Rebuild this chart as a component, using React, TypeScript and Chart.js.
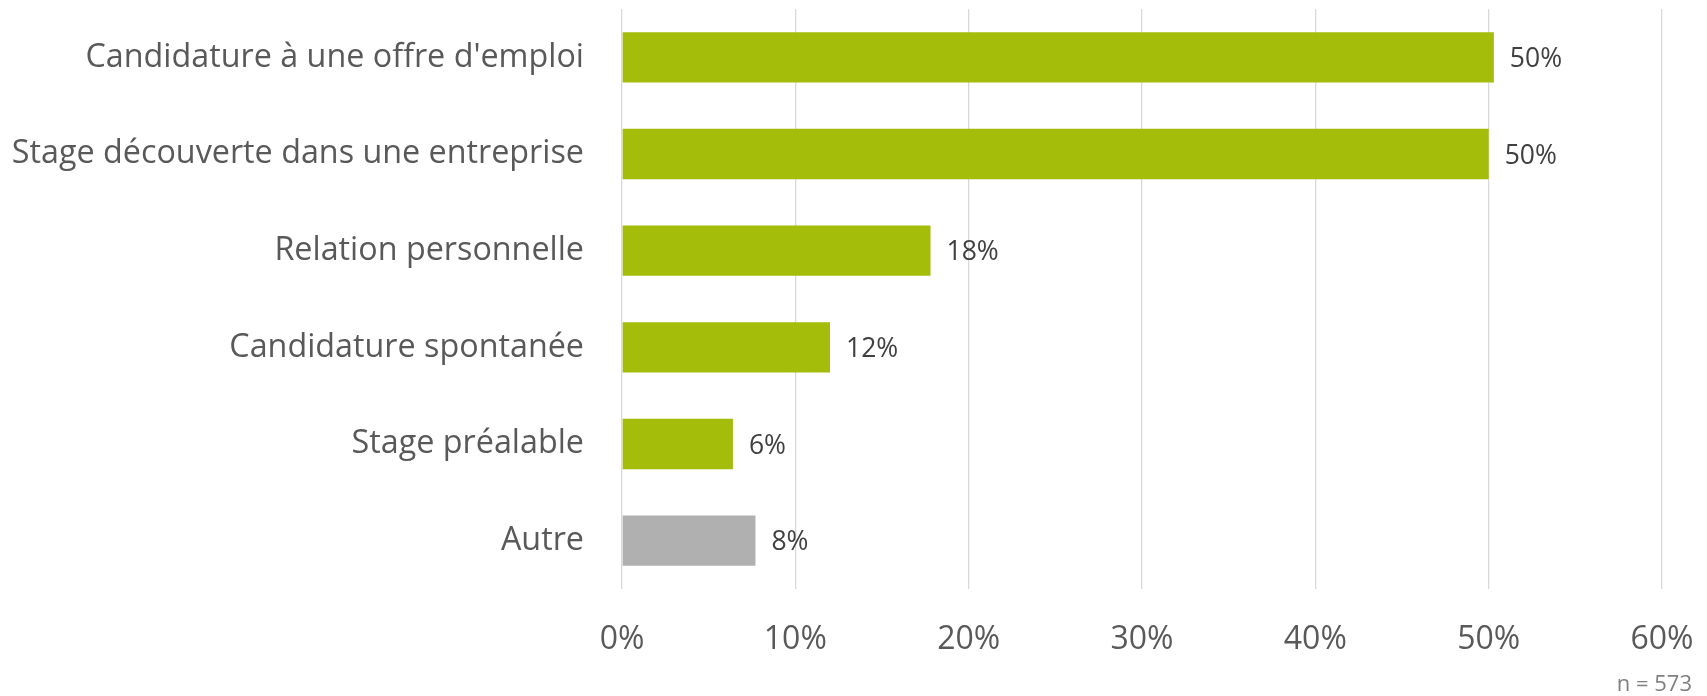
import React, { useEffect, useRef } from "react";
import { Chart, registerables } from "chart.js";

Chart.register(...registerables);

const categories = [
  "Candidature à une offre d'emploi",
  "Stage découverte dans une entreprise",
  "Relation personnelle",
  "Candidature spontanée",
  "Stage préalable",
  "Autre",
];
const values = [50.3, 50.0, 17.8, 12.0, 6.4, 7.7];
const valueLabels = ["50%", "50%", "18%", "12%", "6%", "8%"];
const barColors = ["#A4BC0A", "#A4BC0A", "#A4BC0A", "#A4BC0A", "#A4BC0A", "#B0B0B0"];
const xTicks = [0, 10, 20, 30, 40, 50, 60];
const footnote = "n = 573";

const FONT = "'Open Sans', 'Noto Sans', sans-serif";

export default function App() {
  const ref = useRef<HTMLCanvasElement | null>(null);
  useEffect(() => {
    if (!ref.current) return;
    const labelPlugin = {
      id: "valueLabels",
      afterDatasetsDraw(chart: any) {
        const ctx = chart.ctx;
        const meta = chart.getDatasetMeta(0);
        ctx.save();
        ctx.font = `26.5px ${FONT}`;
        ctx.fillStyle = "#404040";
        ctx.textAlign = "left";
        ctx.textBaseline = "middle";
        meta.data.forEach((el: any, i: number) => {
          ctx.fillText(valueLabels[i], el.x + 16, el.y + 2);
        });
        ctx.font = `22px ${FONT}`;
        ctx.fillStyle = "#7f7f7f";
        ctx.textAlign = "right";
        ctx.fillText(footnote, 1692, 685);
        ctx.restore();
      },
    };
    const chart = new Chart(ref.current, {
      type: "bar",
      data: {
        labels: categories,
        datasets: [
          {
            data: values,
            backgroundColor: barColors,
            borderWidth: 0,
            barPercentage: 0.52,
            categoryPercentage: 1,
          },
        ],
      },
      options: {
        indexAxis: "y",
        responsive: false,
        animation: false,
        layout: { padding: { top: 9, right: 45, bottom: 0, left: 0 } },
        plugins: { legend: { display: false }, tooltip: { enabled: false } },
        scales: {
          x: {
            min: 0,
            max: 60,
            afterBuildTicks: (scale: any) => {
              scale.ticks = xTicks.map((v) => ({ value: v }));
            },
            afterFit: (scale: any) => {
              scale.height = 107;
              scale.paddingLeft = 0;
              scale.paddingRight = 0;
            },
            ticks: {
              padding: 32,
              color: "#595959",
              font: { family: FONT, size: 32 },
              callback: (v: any) => v + "%",
              maxRotation: 0,
            },
            grid: { color: "#D9D9D9", lineWidth: 1.3, drawTicks: false },
            border: { display: false },
          },
          y: {
            afterFit: (scale: any) => {
              scale.width = 622;
              scale.paddingTop = 0;
              scale.paddingBottom = 0;
            },
            ticks: {
              padding: 38,
              color: "#595959",
              font: { family: FONT, size: 32.3 },
            },
            grid: { display: false, drawTicks: false },
            border: { display: false },
          },
        },
      },
      plugins: [labelPlugin],
    } as any);
    return () => chart.destroy();
  }, []);
  return (
    <div style={{ position: "fixed", left: 0, top: 0, width: 1707, height: 696, background: "#fff" }}>
      <canvas ref={ref} width={1707} height={696} style={{ width: 1707, height: 696, display: "block" }} />
    </div>
  );
}
